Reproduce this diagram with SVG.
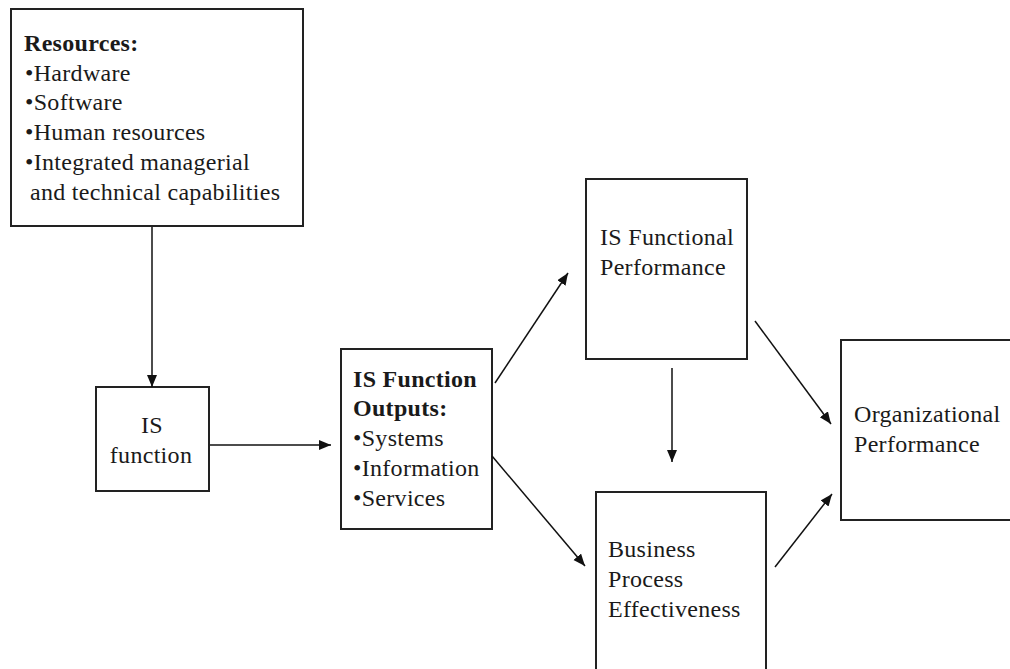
<svg xmlns="http://www.w3.org/2000/svg" width="1010" height="669" viewBox="0 0 1010 669">
  <defs>
    <marker id="arrow" markerUnits="userSpaceOnUse" markerWidth="14" markerHeight="12" refX="12" refY="5" orient="auto">
      <path d="M0,0 L12,5 L0,10 Z" fill="#111"/>
    </marker>
    <style>
      .box { fill: #fff; stroke: #222; stroke-width: 2; }
      .txt { font-family: "Liberation Serif", "Times New Roman", serif; font-size: 24px; letter-spacing: 0.3px; fill: #1a1a1a; }
      .b { font-weight: bold; }
      .link { stroke: #111; stroke-width: 1.5; fill: none; marker-end: url(#arrow); }
    </style>
  </defs>
  <rect width="1010" height="669" fill="#fff"/>

  <g id="resources">
    <rect class="box" x="11" y="9" width="292" height="217"/>
    <text class="txt b" x="24" y="51">Resources:</text>
    <text class="txt" x="25" y="80.5">•Hardware</text>
    <text class="txt" x="25" y="110">•Software</text>
    <text class="txt" x="25" y="140">•Human resources</text>
    <text class="txt" x="25" y="170">•Integrated managerial</text>
    <text class="txt" x="30" y="200">and technical capabilities</text>
  </g>

  <g id="is-function">
    <rect class="box" x="96" y="387" width="113" height="104"/>
    <text class="txt" x="152" y="433" text-anchor="middle">IS</text>
    <text class="txt" x="151" y="463" text-anchor="middle">function</text>
  </g>

  <g id="is-function-outputs">
    <rect class="box" x="341" y="349" width="151" height="180"/>
    <text class="txt b" x="353" y="387">IS Function</text>
    <text class="txt b" x="353" y="416">Outputs:</text>
    <text class="txt" x="353" y="446">•Systems</text>
    <text class="txt" x="353" y="476">•Information</text>
    <text class="txt" x="353" y="506">•Services</text>
  </g>

  <g id="is-functional-performance">
    <rect class="box" x="586" y="179" width="161" height="180"/>
    <text class="txt" x="600" y="245">IS Functional</text>
    <text class="txt" x="600" y="275">Performance</text>
  </g>

  <g id="business-process-effectiveness">
    <rect class="box" x="596" y="492" width="170" height="185"/>
    <text class="txt" x="608" y="557">Business</text>
    <text class="txt" x="608" y="587">Process</text>
    <text class="txt" x="608" y="617">Effectiveness</text>
  </g>

  <g id="organizational-performance">
    <rect class="box" x="841" y="340" width="180" height="180"/>
    <text class="txt" x="854" y="422">Organizational</text>
    <text class="txt" x="854" y="452">Performance</text>
  </g>

  <g id="connectors">
    <line class="link" x1="152" y1="227" x2="152" y2="387"/>
    <line class="link" x1="210" y1="445" x2="331" y2="445"/>
    <line class="link" x1="495" y1="383" x2="568" y2="273"/>
    <line class="link" x1="492" y1="456" x2="585" y2="566"/>
    <line class="link" x1="672" y1="368" x2="672" y2="462"/>
    <line class="link" x1="755" y1="321" x2="831" y2="424"/>
    <line class="link" x1="775" y1="567" x2="832" y2="494"/>
  </g>
</svg>
